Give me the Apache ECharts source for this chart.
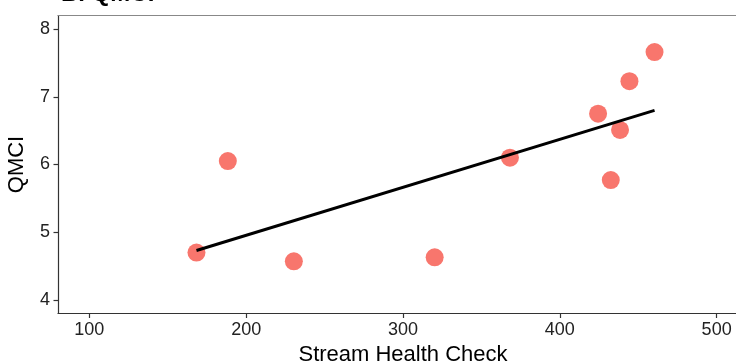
<!DOCTYPE html>
<html>
<head>
<meta charset="utf-8">
<script src="https://cdn.jsdelivr.net/npm/echarts@6/dist/echarts.min.js"></script>
<style>
  html, body { margin: 0; padding: 0; background: #fff; overflow: hidden; }
  /* the panel runs past the right edge of the window, as in the source plot */
  #chart { width: 760px; height: 363px; }
</style>
</head>
<body>
<div id="chart"></div>
<script>
// Stream Health Check vs QMCI, one point per site
const healthCheck = [168.3, 188.3, 230.4, 320.2, 368.2, 424.4, 438.4, 432.5, 444.4, 460.4];
const qmci = [4.70, 6.05, 4.57, 4.63, 6.10, 6.75, 6.51, 5.77, 7.23, 7.66];

// fitted line, ends
const fitX = [168.3, 460.4];
const fitY = [4.73, 6.80];

const xTicks = [100, 200, 300, 400, 500];
const yTicks = [4, 5, 6, 7, 8];

const FONT = "'Liberation Sans', Arial, sans-serif";
const AXIS_COLOR = '#333';
const LABEL_COLOR = '#222';
const POINT_COLOR = '#F8766D';

const chart = echarts.init(document.getElementById('chart'));

const points = healthCheck.map((x, i) => [x, qmci[i]]);
const fit = fitX.map((x, i) => [x, fitY[i]]);

chart.setOption({
  animation: false,
  backgroundColor: '#fff',
  title: {
    text: 'B. QMCI',
    left: 56,
    top: -23,
    textStyle: { fontFamily: FONT, fontSize: 24, fontWeight: 'bold', color: '#000' }
  },
  grid: { left: 58, top: 15.5, width: 690, height: 298, outerBoundsMode: 'none' },
  xAxis: [
    {
      type: 'value',
      min: 80,
      max: 520,
      name: 'Stream Health Check',
      nameLocation: 'middle',
      nameGap: 26,
      nameTextStyle: { fontFamily: FONT, fontSize: 22, color: '#000' },
      axisLine: { lineStyle: { color: AXIS_COLOR, width: 1.2 } },
      axisTick: { customValues: xTicks, length: 4.5, lineStyle: { color: AXIS_COLOR, width: 1.2 } },
      axisLabel: {
        customValues: xTicks,
        margin: 8,
        fontFamily: FONT,
        fontSize: 18,
        color: LABEL_COLOR
      },
      splitLine: { show: false }
    },
    {
      // top border of the panel
      type: 'value',
      position: 'top',
      min: 80,
      max: 520,
      axisLine: { show: true, lineStyle: { color: '#888', width: 1.2 } },
      axisTick: { show: false },
      axisLabel: { show: false },
      splitLine: { show: false }
    }
  ],
  yAxis: {
    type: 'value',
    min: 3.8,
    max: 8.2,
    name: 'QMCI',
    nameLocation: 'middle',
    nameGap: 30,
    nameTextStyle: { fontFamily: FONT, fontSize: 22, color: '#000' },
    axisLine: { show: true, lineStyle: { color: AXIS_COLOR, width: 1.2 } },
    axisTick: { show: true, customValues: yTicks, length: 4.5, lineStyle: { color: AXIS_COLOR, width: 1.2 } },
    axisLabel: {
      customValues: yTicks,
      margin: 8,
      fontFamily: FONT,
      fontSize: 18,
      color: LABEL_COLOR
    },
    splitLine: { show: false }
  },
  series: [
    {
      type: 'scatter',
      data: points,
      symbol: 'circle',
      symbolSize: 18,
      itemStyle: { color: POINT_COLOR, opacity: 1 },
      z: 2
    },
    {
      type: 'line',
      data: fit,
      symbol: 'none',
      lineStyle: { color: '#000', width: 3 },
      z: 3
    }
  ]
});
</script>
</body>
</html>
